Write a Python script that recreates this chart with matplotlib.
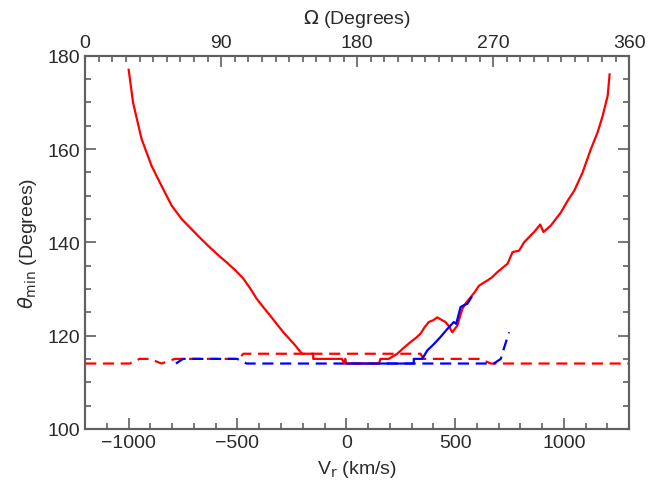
import numpy as np
import matplotlib.pyplot as plt
from matplotlib.ticker import MultipleLocator

plt.rcParams['font.family'] = ['Liberation Sans', 'DejaVu Sans']
plt.rcParams['mathtext.fontset'] = 'dejavusans'

# red solid curve (theta_min vs Vr)
red_v = [-1000, -980, -941, -895, -849, -803, -757, -719, -673, -627, -590, -550,
         -510, -473, -440, -412, -380, -350, -320, -289, -260, -235, -204, -152,
         -152, -20, -10, -5, 0, 150, 157, 195, 234, 265, 295, 320, 341, 360, 379,
         400, 418, 440, 456, 475, 487, 500, 510, 533, 550, 571, 590, 610, 648, 670,
         694, 741, 764, 794, 817, 863, 891, 906, 940, 986, 1017, 1048, 1086, 1124,
         1155, 1178, 1201, 1210]
red_t = [177.0, 170.0, 162.2, 156.4, 152.1, 147.9, 145.0, 143.2, 141.0, 138.9, 137.3, 135.7,
         134.0, 132.2, 130.0, 127.9, 126.0, 124.3, 122.5, 120.7, 119.2, 117.9, 116.1, 116.1,
         115.0, 115.0, 114.0, 115.0, 114.0, 114.0, 115.0, 115.0, 116.1, 117.4, 118.6, 119.5, 120.4, 121.8, 122.9,
         123.3, 123.9, 123.3, 122.9, 121.8, 120.7, 121.5, 122.1, 125.7, 127.0, 128.2, 129.3, 130.7, 131.8, 132.5,
         133.6, 135.4, 137.9, 138.2, 140.0, 142.2, 143.8, 142.2, 143.6, 146.4, 148.9, 151.1, 155.0, 160.0,
         163.6, 167.1, 171.4, 176.0]

# blue solid curve
blue_v = [0, 310, 310, 349, 372, 403, 433, 464, 494, 505, 525, 540, 556, 575]
blue_t = [114.0, 114.0, 115.0, 115.0, 116.8, 118.2, 119.7, 121.4, 122.9, 122.5, 126.1, 126.5, 126.8, 128.2]

# red dashed curve
red_dv = [-1200, -995, -950, -903, -849, -788, -496, -473, 341, 355, 617, 663, 1300]
red_dt = [114.0, 114.0, 115.0, 115.0, 114.0, 115.0, 115.0, 116.1, 116.1, 115.0, 115.0, 114.0, 114.0]

# blue dashed curve
blue_dv = [-783, -750, -502, -458, 678, 710, 724, 748]
blue_dt = [114.0, 115.0, 115.0, 114.0, 114.0, 115.0, 117.2, 120.7]

txt = '#2a2a2a'
spine = '#606060'

fig = plt.figure(figsize=(6.5, 4.89), dpi=100)
ax = fig.add_axes([0.131, 0.121, 0.837, 0.763])

ax.plot(red_dv, red_dt, color='red', lw=1.6, dashes=(5, 3))
ax.plot(blue_dv, blue_dt, color='blue', lw=1.6, dashes=(5, 3))
ax.plot(red_v, red_t, color='red', lw=1.6)
ax.plot(blue_v, blue_t, color='blue', lw=1.6)

ax.set_xlim(-1200, 1300)
ax.set_ylim(100, 180)
ax.xaxis.set_major_locator(MultipleLocator(500))
ax.xaxis.set_minor_locator(MultipleLocator(100))
ax.yaxis.set_major_locator(MultipleLocator(20))
ax.yaxis.set_minor_locator(MultipleLocator(5))
ax.tick_params(which='both', direction='in', right=True, top=False,
               color=spine, labelsize=14, labelcolor=txt, width=1.2)
ax.tick_params(which='major', length=8)
ax.tick_params(which='minor', length=4)
ax.set_xlabel(r'V$_{\rm r}$ (km/s)', fontsize=14, color=txt, labelpad=5)
ax.set_ylabel(r'$\theta_{\rm min}$ (Degrees)', fontsize=14, color=txt, labelpad=6)

ax2 = ax.twiny()
ax2.set_xlim(0, 360)
ax2.xaxis.set_major_locator(MultipleLocator(90))
ax2.xaxis.set_minor_locator(MultipleLocator(9))
ax2.tick_params(which='both', direction='in', color=spine, labelsize=14,
                labelcolor=txt, width=1.2)
ax2.tick_params(which='major', length=8)
ax2.tick_params(which='minor', length=4)
ax2.set_xlabel(r'$\Omega$ (Degrees)', fontsize=14, color=txt, labelpad=8)

for a in (ax, ax2):
    for s in a.spines.values():
        s.set_color(spine)
        s.set_linewidth(1.5)

fig.savefig('out.png', dpi=100)
